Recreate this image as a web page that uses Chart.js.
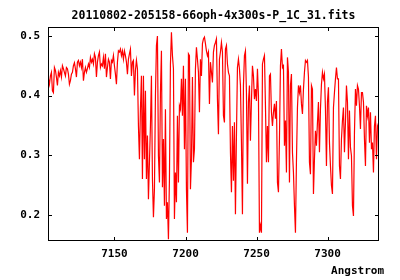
<!DOCTYPE html>
<html>
<head>
<meta charset="utf-8">
<script src="https://cdn.jsdelivr.net/npm/chart.js"></script>
<style>
  body { margin: 0; background: #fff; }
  canvas { display: block; }
</style>
</head>
<body>
<canvas id="spectrum" width="400" height="280"></canvas>
<script>
// spectrum header: first wavelength and step (Angstrom)
const CRVAL1 = 7103.5;
const CDELT1 = 0.704;

// flux, one value per sample
const flux = [
  0.428,0.419,0.433,0.439,0.408,0.405,0.447,0.442,0.431,0.417,
  0.439,0.433,0.442,0.431,0.450,0.445,0.439,0.433,0.447,0.445,
  0.436,0.419,0.425,0.436,0.439,0.450,0.455,0.445,0.431,0.456,
  0.459,0.450,0.456,0.447,0.461,0.425,0.439,0.447,0.439,0.445,
  0.453,0.447,0.464,0.456,0.461,0.453,0.470,0.464,0.431,0.456,
  0.467,0.473,0.447,0.453,0.450,
  0.464,0.445,0.470,0.431,0.447,0.461,0.456,0.428,0.459,0.456,
  0.467,0.450,0.436,0.419,0.456,0.475,0.473,0.478,0.467,0.475,
  0.461,0.475,0.467,0.456,0.436,0.461,0.470,0.478,0.433,0.456,
  0.459,0.400,0.442,0.459,0.445,0.349,0.293,0.377,0.433,0.260,
  0.433,0.293,0.408,0.260,0.333,0.226,0.288,0.349,0.433,0.260,
  0.196,0.243,0.400,0.484,0.500,
  0.299,0.254,0.405,0.475,0.246,0.327,0.215,0.377,0.193,0.221,
  0.159,0.260,0.453,0.506,0.467,0.445,0.193,0.271,0.221,0.366,
  0.254,0.383,0.377,0.428,0.366,0.450,0.310,0.428,0.243,0.170,
  0.470,0.467,0.243,0.293,0.431,0.288,0.310,0.445,0.481,0.461,
  0.439,0.372,0.461,0.433,0.487,0.495,0.498,0.487,0.475,0.467,
  0.473,0.386,0.456,0.439,0.422,0.473,
  0.484,0.489,0.495,0.394,0.335,0.461,0.473,0.489,0.473,0.366,
  0.355,0.478,0.484,0.453,0.439,0.433,0.305,0.238,0.349,0.257,
  0.355,0.201,0.333,0.447,0.461,0.445,0.417,0.321,0.201,0.417,
  0.467,0.475,0.405,0.252,0.389,0.417,0.324,0.391,0.450,0.433,
  0.394,0.411,0.391,0.445,0.400,0.170,0.182,0.170,0.453,0.461,
  0.467,0.383,0.288,0.349,
  0.288,0.433,0.436,0.372,0.349,0.372,0.386,0.361,0.391,0.254,
  0.238,0.327,0.450,0.478,0.447,0.450,0.316,0.358,0.271,0.464,
  0.439,0.254,0.417,0.436,0.305,0.271,0.215,0.170,0.291,0.380,
  0.417,0.405,0.417,0.386,0.369,0.411,0.439,0.459,0.456,0.459,
  0.431,0.288,0.268,0.417,0.411,0.235,0.293,0.341,0.316,0.355,
  0.389,0.305,0.377,0.419,0.439,
  0.428,0.436,0.377,0.282,0.389,0.414,0.321,0.282,0.249,0.235,
  0.380,0.405,0.428,0.447,0.428,0.428,0.282,0.260,0.327,0.358,
  0.380,0.305,0.355,0.417,0.389,0.293,0.375,0.313,0.299,0.215,
  0.198,0.338,0.411,0.383,0.417,0.411,0.383,0.344,0.405,0.405,
  0.389,0.327,0.282,0.383,0.366,0.380,0.321,0.372,0.310,0.321,
  0.271,0.349,0.366,0.293,0.349,0.344
];

const xTicks = [7150, 7200, 7250, 7300];
const yTicks = [0.2, 0.3, 0.4, 0.5];
const xRange = [7103.2, 7336.2];
const yRange = [0.156, 0.515];

const titleText = '20110802-205158-66oph-4x300s-P_1C_31.fits';
const xLabel = 'Angstrom';

const monoFont = '"DejaVu Sans Mono", "Liberation Mono", monospace';

// build the points from the header and the flux list
const points = flux.map((f, i) => ({ x: CRVAL1 + i * CDELT1, y: f }));

// gnuplot style box with inward ticks, plus title and axis label
const frame = {
    id: 'frame',
    afterDatasetsDraw(chart) {
        const { ctx, chartArea: a, scales } = chart;
        ctx.save();
        ctx.strokeStyle = '#000';
        ctx.lineWidth = 1;
        ctx.strokeRect(a.left + 0.5, a.top + 0.5, a.right - a.left - 1, a.bottom - a.top - 1);
        ctx.beginPath();
        xTicks.forEach(v => {
            const px = Math.round(scales.x.getPixelForValue(v)) + 0.5;
            ctx.moveTo(px, a.bottom); ctx.lineTo(px, a.bottom - 4);
            ctx.moveTo(px, a.top); ctx.lineTo(px, a.top + 4);
        });
        yTicks.forEach(v => {
            const py = Math.round(scales.y.getPixelForValue(v)) + 0.5;
            ctx.moveTo(a.left, py); ctx.lineTo(a.left + 4, py);
            ctx.moveTo(a.right, py); ctx.lineTo(a.right - 4, py);
        });
        ctx.stroke();

        ctx.fillStyle = '#000';
        ctx.textBaseline = 'middle';
        ctx.font = 'bold 11.5px ' + monoFont;
        ctx.textAlign = 'center';
        ctx.fillText(titleText, (a.left + a.right) / 2, 16);
        ctx.font = 'bold 11px ' + monoFont;
        ctx.textAlign = 'right';
        ctx.fillText(xLabel, 384, 271);
        ctx.restore();
    }
};

new Chart(document.getElementById('spectrum').getContext('2d'), {
    type: 'line',
    data: {
        datasets: [{
            data: points,
            borderColor: '#ff0000',
            borderWidth: 1.2,
            pointRadius: 0,
            tension: 0,
            fill: false
        }]
    },
    options: {
        responsive: false,
        animation: false,
        devicePixelRatio: 1,
        layout: { padding: { left: 0, right: 21, top: 27, bottom: 0 } },
        plugins: {
            legend: { display: false },
            tooltip: { enabled: false },
            title: { display: false }
        },
        scales: {
            x: {
                type: 'linear',
                min: xRange[0],
                max: xRange[1],
                grid: { display: false, drawTicks: false },
                border: { display: false },
                afterBuildTicks: s => { s.ticks = xTicks.map(v => ({ value: v })); },
                afterFit: s => { s.height = 39; },
                ticks: {
                    color: '#000',
                    padding: 7,
                    maxRotation: 0,
                    font: { family: monoFont, size: 11, weight: 'bold' },
                    callback: v => String(v)
                }
            },
            y: {
                min: yRange[0],
                max: yRange[1],
                grid: { display: false, drawTicks: false },
                border: { display: false },
                afterBuildTicks: s => { s.ticks = yTicks.map(v => ({ value: v })); },
                afterFit: s => { s.width = 48; },
                ticks: {
                    color: '#000',
                    padding: 8,
                    font: { family: monoFont, size: 11, weight: 'bold' },
                    callback: v => v.toFixed(1)
                }
            }
        }
    },
    plugins: [frame]
});
</script>
</body>
</html>
